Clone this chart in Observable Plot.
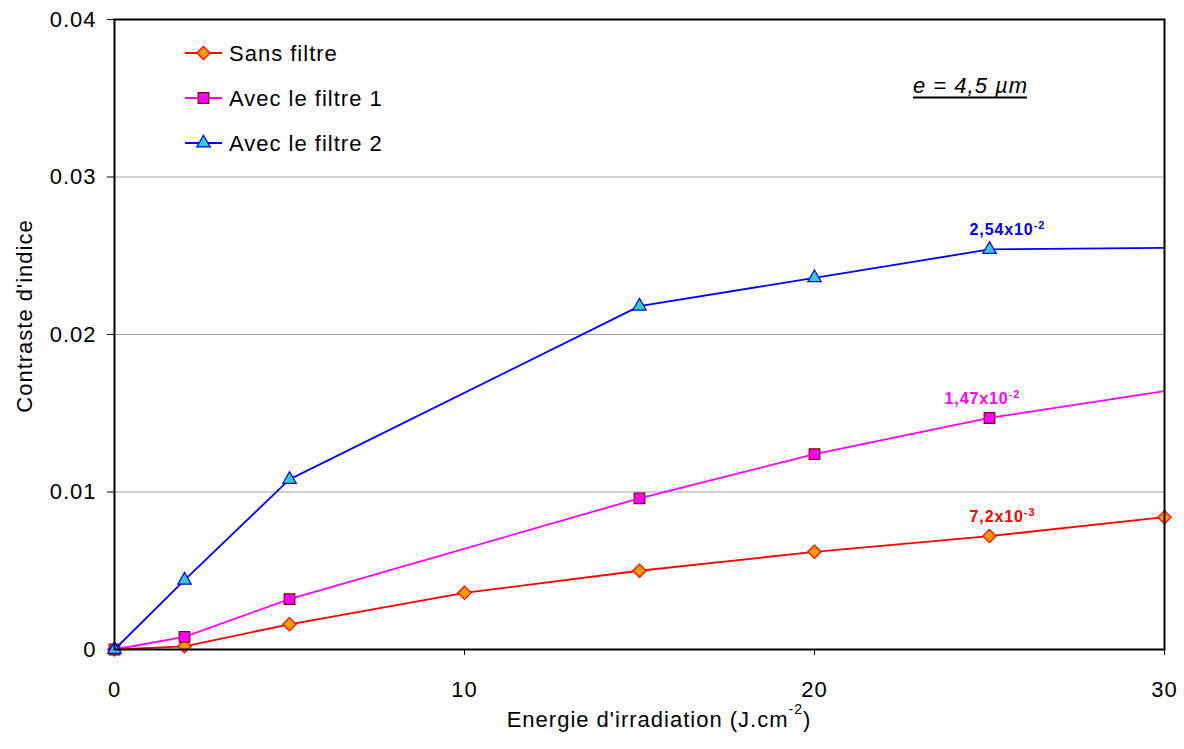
<!DOCTYPE html>
<html><head><meta charset="utf-8">
<script src="https://cdn.jsdelivr.net/npm/d3@7"></script>
<script src="https://cdn.jsdelivr.net/npm/@observablehq/plot@0.6"></script>
<style>
html,body{margin:0;padding:0;background:#fff;color:#000;}
#chart{position:relative;width:1184px;height:749px;}
</style></head><body><div id="chart"></div>
<script>
// ---- data ----
const energySans = [0, 2, 5, 10, 15, 20, 25, 30];
const sansFiltre = [0, 0.0002, 0.0016, 0.0036, 0.0050, 0.0062, 0.0072, 0.0084];
const energyFiltre = [0, 2, 5, 15, 20, 25, 30];
const avecFiltre1 = [0, 0.0008, 0.0032, 0.0096, 0.0124, 0.0147, 0.0164];
const avecFiltre2 = [0, 0.0044, 0.0108, 0.0218, 0.0236, 0.0254, 0.0255];
const seriesNames = ["Sans filtre", "Avec le filtre 1", "Avec le filtre 2"];
const markerOnLastPoint = [true, false, false];
const xTicks = [0, 10, 20, 30];
const yTicks = [0, 0.01, 0.02, 0.03, 0.04];
const gridValues = [0.01, 0.02, 0.03];
const annotSeries = ["Avec le filtre 2", "Avec le filtre 1", "Sans filtre"];
const annotX = [25, 25, 25];
const annotY = [0.0254, 0.0147, 0.0072];
const annotBase = ["2,54x10", "1,47x10", "7,2x10"];
const annotExp = ["-2", "-2", "-3"];
const xLabelBase = "Energie d'irradiation (J.cm";
const xLabelExp = "-2";
const xLabelEnd = ")";
const yLabel = "Contraste d'indice";
const thicknessNote = "e = 4,5 µm";

// ---- styles ----
const styles = {
  "Sans filtre":      {line: "#ff0000", fill: "#ff9900", mstroke: "#ff0000", symbol: "diamond2", r: 6.0, text: "#ff0000", dx: -20},
  "Avec le filtre 1": {line: "#ff00ff", fill: "#ff00ff", mstroke: "#800000", symbol: "square",   r: 6.0, text: "#ff00ff", dx: -45},
  "Avec le filtre 2": {line: "#0000ff", fill: "#33cccc", mstroke: "#0000ff", symbol: "triangle", r: 5.0, text: "#0000ee", dx: -20}
};
const FONT = "'Liberation Sans', Arial, Helvetica, sans-serif";

const seriesData = [
  energySans.map((x, i) => ({x, y: sansFiltre[i]})),
  energyFiltre.map((x, i) => ({x, y: avecFiltre1[i]})),
  energyFiltre.map((x, i) => ({x, y: avecFiltre2[i]}))
];

const marks = [
  Plot.ruleY(gridValues, {stroke: "#a0a0a0", strokeWidth: 1})
];
seriesNames.forEach((name, k) => {
  const s = styles[name];
  const pts = seriesData[k];
  const dots = markerOnLastPoint[k] ? pts : pts.slice(0, -1);
  marks.push(Plot.line(pts, {x: "x", y: "y", stroke: s.line, strokeWidth: 1.8}));
  marks.push(Plot.dot(dots, {x: "x", y: "y", symbol: s.symbol, r: s.r, fill: s.fill, stroke: s.mstroke, strokeWidth: 1.2}));
});
const annots = annotSeries.map((name, i) => ({name, x: annotX[i], y: annotY[i], base: annotBase[i], exp: annotExp[i]}));
annots.forEach(a => {
  marks.push(Plot.text([a], {
    x: "x", y: "y", text: "base",
    fill: styles[a.name].text,
    dx: styles[a.name].dx,
    dy: -14, textAnchor: "start", lineAnchor: "bottom",
    fontWeight: "bold", fontSize: 16
  }));
});
marks.push(Plot.frame({stroke: "#000", strokeWidth: 2}));

const chart = Plot.plot({
  width: 1184, height: 749,
  marginLeft: 114, marginRight: 20, marginTop: 19, marginBottom: 100,
  style: `font-family: ${FONT}; font-size: 22px; letter-spacing: 1px; background: #fff; color: #000; overflow: visible;`,
  x: {domain: [0, 30], ticks: xTicks, tickSize: 6, tickPadding: 26, label: null, tickFormat: d => String(d)},
  y: {domain: [0, 0.04], ticks: yTicks, tickSize: 7, tickPadding: 11, label: null, tickFormat: d => d === 0 ? "0" : d.toFixed(2)},
  marks
});
document.getElementById("chart").appendChild(chart);

const svg = d3.select(chart);

// superscripts on value labels
svg.selectAll('g[aria-label="text"] text').each(function(_, j) {
  const a = annots[j];
  if (!a) return;
  const t = d3.select(this);
  t.style("letter-spacing", "0.9px");
  t.text(a.base);
  t.append("tspan").attr("dy", -6).style("font-size", "11px").text(a.exp);
});

// axis titles
const xl = svg.append("text")
  .attr("x", 659).attr("y", 727).attr("text-anchor", "middle")
  .style("font-size", "22px").attr("fill", "#000");
xl.append("tspan").text(xLabelBase);
xl.append("tspan").attr("dy", -13).style("font-size", "14px").text(xLabelExp);
xl.append("tspan").attr("dy", 13).text(xLabelEnd);

svg.append("text")
  .attr("transform", "translate(31.5,316) rotate(-90)")
  .attr("text-anchor", "middle").style("font-size", "22px").attr("fill", "#000")
  .text(yLabel);

// legend
const symMap = {diamond2: d3.symbolDiamond2, square: d3.symbolSquare, triangle: d3.symbolTriangle};
const leg = svg.append("g").attr("text-anchor", "start");
seriesNames.forEach((name, i) => {
  const s = styles[name];
  const cy = 53 + 45 * i;
  leg.append("line").attr("x1", 185).attr("x2", 222).attr("y1", cy).attr("y2", cy)
    .attr("stroke", s.line).attr("stroke-width", 1.8);
  leg.append("path").attr("transform", `translate(203.5,${cy})`)
    .attr("d", d3.symbol(symMap[s.symbol], Math.PI * s.r * s.r)())
    .attr("fill", s.fill).attr("stroke", s.mstroke).attr("stroke-width", 1.2);
  leg.append("text").attr("x", 229).attr("y", cy + 7.8).attr("fill", "#000")
    .attr("text-anchor", "start").style("font-size", "22px").text(name);
});

// thickness note
const note = svg.append("text").attr("x", 913).attr("y", 93).attr("text-anchor", "start")
  .style("font-style", "italic").style("font-size", "22px").attr("fill", "#000")
  .text(thicknessNote);
const nw = note.node().getComputedTextLength();
svg.append("line").attr("x1", 913).attr("x2", 913 + nw - 1).attr("y1", 97.5).attr("y2", 97.5)
  .attr("stroke", "#000").attr("stroke-width", 2);
</script></body></html>
